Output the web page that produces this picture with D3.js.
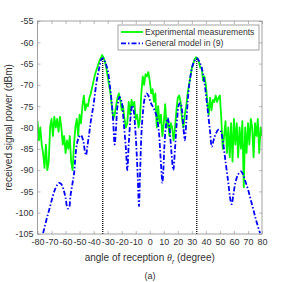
<!DOCTYPE html>
<html>
<head>
<meta charset="utf-8">
<script src="https://cdn.jsdelivr.net/npm/d3@7"></script>
<style>
  body { margin: 0; background: #fff; }
  text { font-family: "Liberation Sans", Arial, sans-serif; }
</style>
</head>
<body>
<script>
// x ticks / y ticks
const xTicks = [-80, -70, -60, -50, -40, -30, -20, -10, 0, 10, 20, 30, 40, 50, 60, 70, 80];
const yTicks = [-105, -100, -95, -90, -85, -80, -75, -70, -65, -60, -55];

// experimental measurements (green), 1 degree steps from -80 to 80
const expAngles = d3.range(-80, 81, 1);
const expPower = [
  -78.5, -83, -80, -84, -86, -89.5, -84, -90, -88, -80,
  -78, -82, -77.5, -80, -78, -81, -77.5, -80, -84, -82,
  -86, -83, -85, -82, -88, -90, -84, -80, -78, -82,
  -77, -79, -75, -72.5, -76, -74.5, -75, -73, -72, -70.5,
  -69, -67.5, -66.5, -65.5, -64.5, -63.8, -63, -63.5, -64.5, -66,
  -68, -70, -72, -75, -78, -77, -75, -73, -72, -73.5,
  -76, -75, -78, -80, -79, -74, -77, -73.5, -75, -74,
  -78, -77, -80, -78, -72, -68, -70, -67.5, -68, -67,
  -69, -72, -71, -74, -72, -80, -75, -79, -77, -82,
  -79, -74.5, -80, -78, -82, -79, -80, -83, -80, -76,
  -73, -72.5, -74, -78, -80, -77, -75, -72, -70, -68,
  -66, -65, -64, -63.5, -63.8, -64.5, -66, -66, -69, -68,
  -70, -74, -77, -73, -76, -73.5, -74, -72.5, -74, -73,
  -72.5, -78, -85, -82, -78.5, -86, -80, -87, -79, -88,
  -78, -84, -79, -87, -80, -85, -78.5, -94, -80, -86,
  -79, -84, -78, -80, -87, -79, -82, -78, -86, -80,
  -82
];

// general model in (9) (blue)
const modelAngles = [
  -76, -73.5, -71, -69, -67.5, -66, -64.5, -63, -61.5, -60,
  -58.5, -57.5, -56.5, -55, -54, -53, -52, -50.5, -49, -47.5,
  -46, -45.4, -44.5, -43, -42, -40, -38, -36, -34.5, -33.5,
  -32, -30, -28.5, -27, -26, -25, -24, -23, -21.5, -20,
  -18.5, -17, -16, -15, -13.5, -12.5, -11.5, -10, -8.5, -7.7,
  -7, -6, -5, -3.5, -2.2, -1, 0.5, 2, 3.5, 5,
  6.5, 7.5, 8.5, 9, 9.7, 10.5, 11.8, 12.8, 14, 15.5,
  16.8, 18, 19.5, 21, 22, 23, 24, 25, 26, 27.5,
  29, 31, 33.5, 35, 37, 39, 41, 43, 44.2, 45.5,
  47, 49, 50.5, 52, 54, 56, 57.5, 58.4, 59.5, 61,
  63, 65, 66.5, 68, 70, 72, 74, 76, 78.6
];
const modelPower = [
  -104.8, -101.5, -98.5, -96, -94.5, -93.5, -93, -93.3, -94.5, -96.5,
  -99, -98.8, -96, -93, -91, -87, -84, -82.3, -81.8, -83,
  -86, -86.5, -84.5, -81, -78.5, -74.5, -69.5, -66, -64, -63.7,
  -64.5, -66.5, -70, -74.5, -79, -84, -80, -75, -72.8, -74,
  -79, -85, -90, -84, -77, -74.8, -76, -82, -92, -98.5,
  -92, -82, -77, -73, -72, -72.5, -74, -75, -76, -77.5,
  -81, -86, -91, -93, -90, -84, -79, -77.8, -80, -86,
  -90, -85, -78, -74.5, -74.3, -76, -80, -83, -79, -72,
  -68, -65, -63.7, -64.3, -66, -69.5, -75, -81, -84.5, -83,
  -81.5, -80.5, -80.8, -83, -88, -93, -97, -98, -96, -93,
  -91, -90.3, -91, -92.5, -94.5, -97, -99.5, -102, -104.8
];

// main lobe directions (dotted)
const lobeAngles = [-33.5, 33.5];
const lobePeak = -63.7;

const width = 290, height = 282;
const mLeft = 37.5, mRight = 262, mTop = 21, mBottom = 234;

const svg = d3.select("body").append("svg")
    .attr("width", width)
    .attr("height", height);

const x = d3.scaleLinear().domain([-80, 80]).range([mLeft, mRight]);
const y = d3.scaleLinear().domain([-105, -55]).range([mBottom, mTop]);

const plot = svg.append("g");

plot.append("defs").append("clipPath").attr("id", "clip")
    .append("rect")
    .attr("x", mLeft).attr("y", mTop)
    .attr("width", mRight - mLeft).attr("height", mBottom - mTop);

const axisColor = "#8a8a8a";
const textColor = "#333";
const fmt = d => String(d); // plain hyphen minus like the original

// axes with inward ticks, mirrored on top/right
function styleAxis(g, showText) {
    g.select(".domain").remove();
    g.selectAll(".tick line").attr("stroke", axisColor).attr("stroke-width", 0.6);
    g.selectAll(".tick text")
        .attr("fill", textColor)
        .style("font-size", "9px")
        .style("font-family", "'Liberation Sans', Arial, sans-serif");
    if (!showText) g.selectAll(".tick text").remove();
}

svg.append("g").attr("transform", `translate(0,${mBottom})`)
    .call(d3.axisBottom(x).tickValues(xTicks).tickFormat(fmt).tickSize(-3).tickPadding(5))
    .call(g => styleAxis(g, true));
svg.append("g").attr("transform", `translate(0,${mTop})`)
    .call(d3.axisTop(x).tickValues(xTicks).tickSize(-3))
    .call(g => styleAxis(g, false));
svg.append("g").attr("transform", `translate(${mLeft},0)`)
    .call(d3.axisLeft(y).tickValues(yTicks).tickFormat(fmt).tickSize(-3).tickPadding(4))
    .call(g => styleAxis(g, true));
svg.append("g").attr("transform", `translate(${mRight},0)`)
    .call(d3.axisRight(y).tickValues(yTicks).tickSize(-3))
    .call(g => styleAxis(g, false));

// dotted lines at the main lobes
plot.selectAll(".lobe")
    .data(lobeAngles)
    .join("line")
    .attr("class", "lobe")
    .attr("x1", d => x(d)).attr("x2", d => x(d))
    .attr("y1", y(-105)).attr("y2", y(lobePeak))
    .attr("stroke", "#000")
    .attr("stroke-width", 1.3)
    .attr("stroke-dasharray", "1,1");

const expLine = d3.line()
    .x((d, i) => x(expAngles[i]))
    .y(d => y(d));

plot.append("path")
    .datum(expPower)
    .attr("clip-path", "url(#clip)")
    .attr("d", expLine)
    .attr("fill", "none")
    .attr("stroke", "#00ff00")
    .attr("stroke-width", 1.8)
    .attr("stroke-linejoin", "round");

const modelLine = d3.line()
    .curve(d3.curveCatmullRom)
    .x((d, i) => x(modelAngles[i]))
    .y(d => y(d));

plot.append("path")
    .datum(modelPower)
    .attr("clip-path", "url(#clip)")
    .attr("d", modelLine)
    .attr("fill", "none")
    .attr("stroke", "#0000ff")
    .attr("stroke-width", 1.8)
    .attr("stroke-dasharray", "5,2,1.5,2");

// box
svg.append("rect")
    .attr("x", mLeft).attr("y", mTop)
    .attr("width", mRight - mLeft).attr("height", mBottom - mTop)
    .attr("fill", "none")
    .attr("stroke", axisColor)
    .attr("stroke-width", 0.8);

// legend
const legendItems = [
    {label: "Experimental measurements", color: "#00ff00", dash: null},
    {label: "General model in (9)", color: "#0000ff", dash: "5,2,1.5,2"}
];
const legend = svg.append("g");
legend.append("rect")
    .attr("x", 118).attr("y", 25)
    .attr("width", 141).attr("height", 25)
    .attr("fill", "#fff")
    .attr("stroke", axisColor)
    .attr("stroke-width", 0.8);
legendItems.forEach((item, i) => {
    const cy = 32 + i * 11.3;
    legend.append("line")
        .attr("x1", 121).attr("x2", 143)
        .attr("y1", cy).attr("y2", cy)
        .attr("stroke", item.color)
        .attr("stroke-width", 1.8)
        .attr("stroke-dasharray", item.dash);
    legend.append("text")
        .attr("x", 145).attr("y", cy)
        .attr("dy", "0.35em")
        .attr("fill", textColor)
        .style("font-size", "8.6px")
        .text(item.label);
});

// axis labels
const xLabel = svg.append("text")
    .attr("x", (mLeft + mRight) / 2)
    .attr("y", 261)
    .attr("text-anchor", "middle")
    .attr("fill", textColor)
    .style("font-size", "10px");
xLabel.append("tspan").text("angle of reception ");
xLabel.append("tspan").style("font-style", "italic").style("font-family", "'Liberation Serif', serif").text("θ");
xLabel.append("tspan").attr("dy", 2.5).style("font-size", "7px").style("font-style", "italic").text("r");
xLabel.append("tspan").attr("dy", -2.5).text(" (degree)");

svg.append("text")
    .attr("transform", `translate(12,${(mTop + mBottom) / 2}) rotate(-90)`)
    .attr("text-anchor", "middle")
    .attr("fill", textColor)
    .style("font-size", "10px")
    .text("received signal power (dBm)");

svg.append("text")
    .attr("x", 150).attr("y", 279)
    .attr("text-anchor", "middle")
    .attr("fill", textColor)
    .style("font-size", "9px")
    .text("(a)");
</script>
</body>
</html>
